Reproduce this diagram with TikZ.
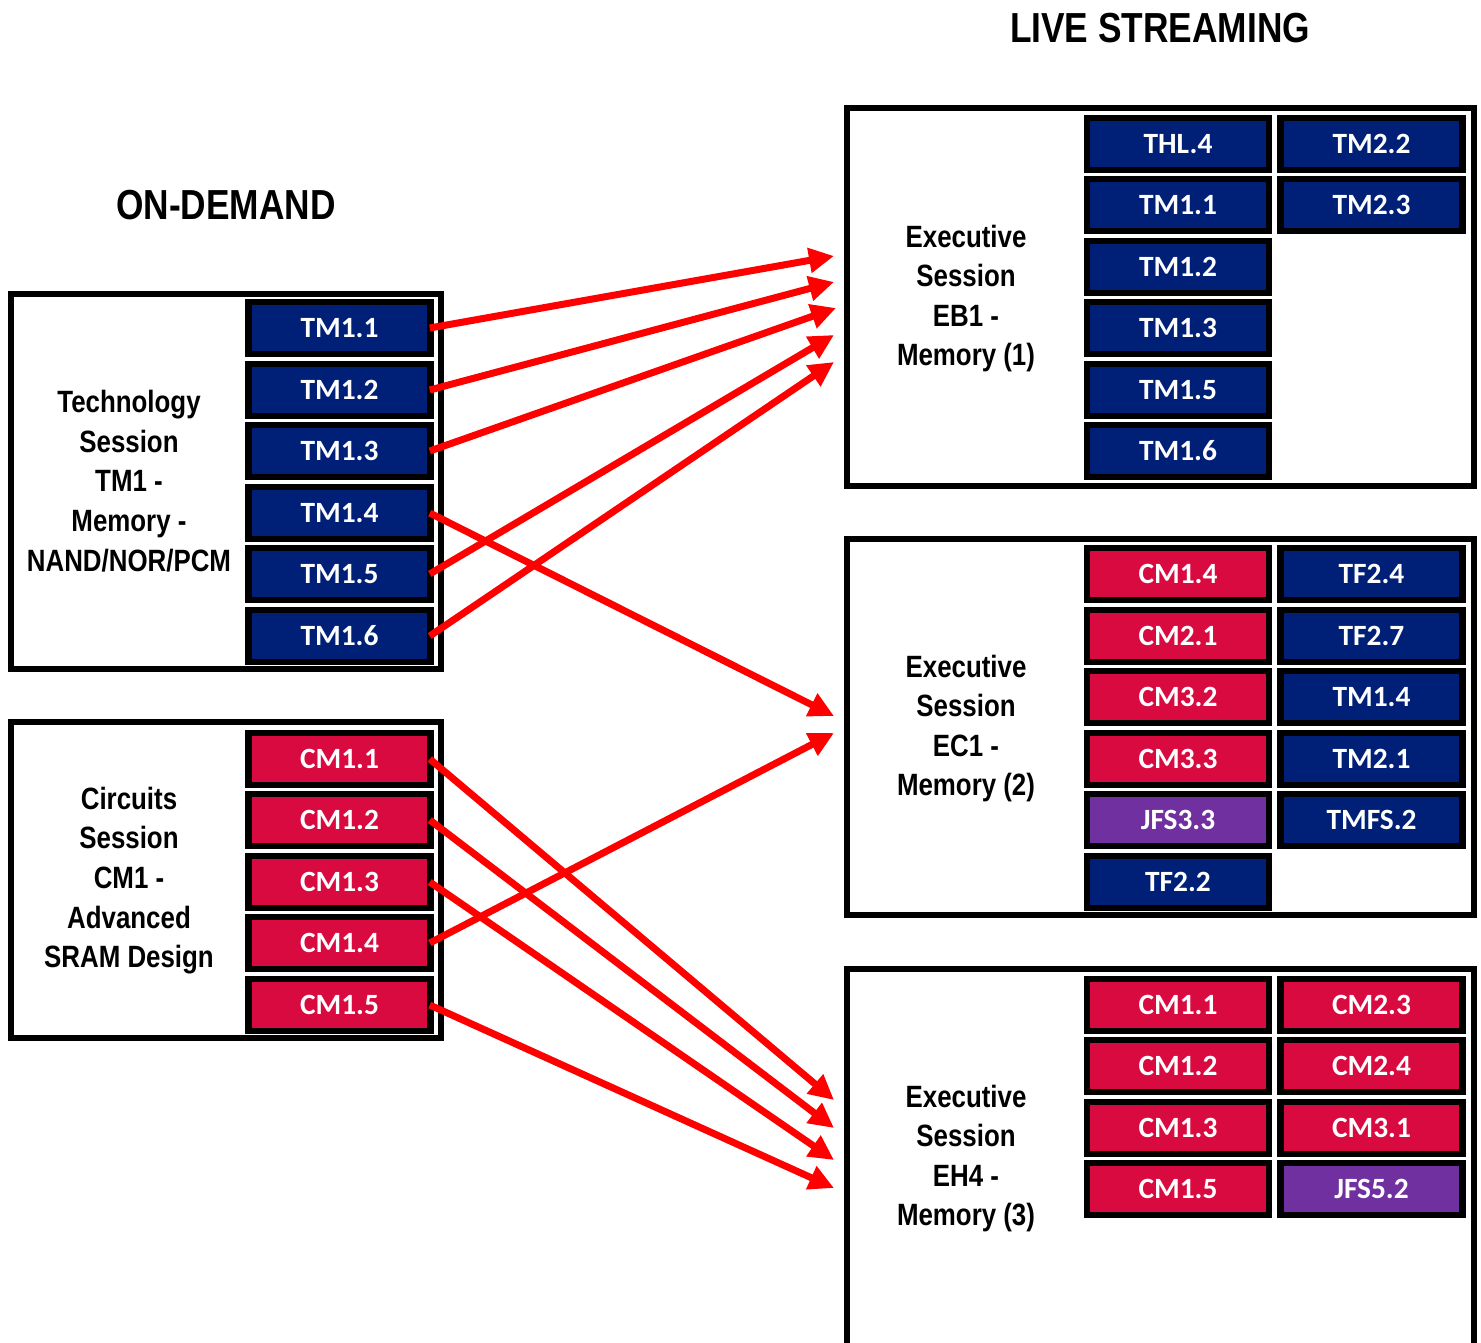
\documentclass[tikz,border=0pt]{standalone}
\usepackage{fontspec}
\setmainfont{Liberation Sans}
\newfontfamily\tilefont{Carlito}
\newfontfamily\narrowfont[FakeStretch=0.84]{Liberation Sans}
\usetikzlibrary{arrows.meta}
\definecolor{navy}{RGB}{0,32,120}
\definecolor{crimson}{RGB}{216,10,64}
\definecolor{violet}{RGB}{112,48,160}
\tikzset{
  tile/.style={draw=black, line width=3.25pt, minimum width=91pt, minimum height=26pt,
    inner sep=0pt, text=white, font=\tilefont\bfseries\fontsize{14.7}{17}\selectfont},
  navytile/.style={tile, fill=navy},
  redtile/.style={tile, fill=crimson},
  purpletile/.style={tile, fill=violet},
  sessionbox/.style={draw=black, line width=3pt, inner sep=0pt},
  sessionlabel/.style={align=center, font=\narrowfont\bfseries\fontsize{15.4}{19.8}\selectfont},
  title/.style={font=\narrowfont\bfseries\fontsize{21}{26}\selectfont},
  link/.style={draw=red, line width=3.5pt, -{Triangle[length=12.5pt, width=12pt]}}
}
\begin{document}
\begin{tikzpicture}[x=0.5pt, y=-0.5pt]
\useasboundingbox (0,0) rectangle (1481,1342);
% titles
\node[title] (ondemand) at (226,205) {ON-DEMAND};
\node[title] (live) at (1160,28) {LIVE STREAMING};
% on-demand sessions
\node[sessionbox, minimum width=215pt, minimum height=187.5pt] (tmbox) at (226,481.5) {};
\node[sessionbox, minimum width=215pt, minimum height=158pt] (cmbox) at (226,880) {};
\node[sessionlabel] (tmlabel) at (129,481) {Technology\\Session\\TM1 -\\Memory -\\NAND/NOR/PCM};
\node[sessionlabel] (cmlabel) at (129,880.5) {Circuits\\Session\\CM1 -\\Advanced\\SRAM Design};
\node[navytile] (tm11) at (339.5,328) {TM1.1};
\node[navytile] (tm12) at (339.5,390) {TM1.2};
\node[navytile] (tm13) at (339.5,451) {TM1.3};
\node[navytile] (tm14) at (339.5,513) {TM1.4};
\node[navytile] (tm15) at (339.5,574) {TM1.5};
\node[navytile] (tm16) at (339.5,636) {TM1.6};
\node[redtile] (cm11) at (339.5,759) {CM1.1};
\node[redtile] (cm12) at (339.5,820) {CM1.2};
\node[redtile] (cm13) at (339.5,882) {CM1.3};
\node[redtile] (cm14) at (339.5,943) {CM1.4};
\node[redtile] (cm15) at (339.5,1005) {CM1.5};
% live streaming sessions
\node[sessionbox, minimum width=313.5pt, minimum height=189pt] (ebbox) at (1160.5,297) {};
\node[sessionbox, minimum width=313.5pt, minimum height=188pt] (ecbox) at (1160.5,727) {};
\draw[line width=3pt] (847,1360) -- (847,969) -- (1474,969) -- (1474,1360);
\node[sessionlabel] (eblabel) at (966,298.5) {Executive\\Session\\EB1 -\\Memory (1)};
\node[sessionlabel] (eclabel) at (966,728.5) {Executive\\Session\\EC1 -\\Memory (2)};
\node[sessionlabel] (ehlabel) at (966,1158.5) {Executive\\Session\\EH4 -\\Memory (3)};
% EB1
\node[navytile] (eb11) at (1178,144) {THL.4};
\node[navytile] (eb12) at (1371.5,144) {TM2.2};
\node[navytile] (eb21) at (1178,205) {TM1.1};
\node[navytile] (eb22) at (1371.5,205) {TM2.3};
\node[navytile] (eb31) at (1178,267) {TM1.2};
\node[navytile] (eb41) at (1178,328) {TM1.3};
\node[navytile] (eb51) at (1178,390) {TM1.5};
\node[navytile] (eb61) at (1178,451) {TM1.6};
% EC1
\node[redtile] (ec11) at (1178,574) {CM1.4};
\node[navytile] (ec12) at (1371.5,574) {TF2.4};
\node[redtile] (ec21) at (1178,636) {CM2.1};
\node[navytile] (ec22) at (1371.5,636) {TF2.7};
\node[redtile] (ec31) at (1178,697) {CM3.2};
\node[navytile] (ec32) at (1371.5,697) {TM1.4};
\node[redtile] (ec41) at (1178,759) {CM3.3};
\node[navytile] (ec42) at (1371.5,759) {TM2.1};
\node[purpletile] (ec51) at (1178,820) {JFS3.3};
\node[navytile] (ec52) at (1371.5,820) {TMFS.2};
\node[navytile] (ec61) at (1178,882) {TF2.2};
% EH4
\node[redtile] (eh11) at (1178,1005) {CM1.1};
\node[redtile] (eh12) at (1371.5,1005) {CM2.3};
\node[redtile] (eh21) at (1178,1066) {CM1.2};
\node[redtile] (eh22) at (1371.5,1066) {CM2.4};
\node[redtile] (eh31) at (1178,1128) {CM1.3};
\node[redtile] (eh32) at (1371.5,1128) {CM3.1};
\node[redtile] (eh41) at (1178,1189) {CM1.5};
\node[purpletile] (eh42) at (1371.5,1189) {JFS5.2};
% arrow targets
\coordinate (ebin1) at (834,256);
\coordinate (ebin2) at (834,282);
\coordinate (ebin3) at (836,308);
\coordinate (ebin4) at (834,335);
\coordinate (ebin5) at (834,362);
\coordinate (ecin1) at (834,716);
\coordinate (ecin2) at (834,733);
\coordinate (ehin1) at (834,1100);
\coordinate (ehin2) at (834,1128);
\coordinate (ehin3) at (834,1160);
\coordinate (ehin4) at (834,1188);
% links
\path[link] ([xshift=-2pt]tm11.east) -- (ebin1);
\path[link] ([xshift=-2pt]tm12.east) -- (ebin2);
\path[link] ([xshift=-2pt]tm13.east) -- (ebin3);
\path[link] ([xshift=-2pt]tm15.east) -- (ebin4);
\path[link] ([xshift=-2pt]tm16.east) -- (ebin5);
\path[link] ([xshift=-2pt]tm14.east) -- (ecin1);
\path[link] ([xshift=-2pt]cm14.east) -- (ecin2);
\path[link] ([xshift=-2pt]cm11.east) -- (ehin1);
\path[link] ([xshift=-2pt]cm12.east) -- (ehin2);
\path[link] ([xshift=-2pt]cm13.east) -- (ehin3);
\path[link] ([xshift=-2pt]cm15.east) -- (ehin4);
\end{tikzpicture}
\end{document}
